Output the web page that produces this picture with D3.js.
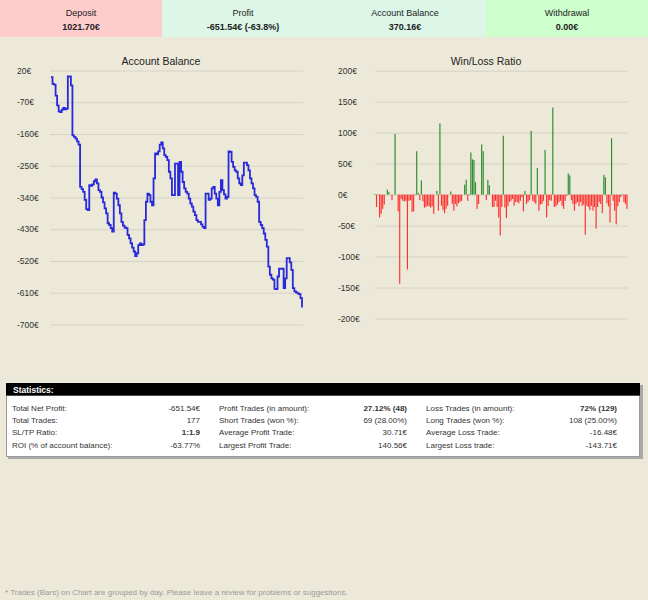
<!DOCTYPE html>
<html><head><meta charset="utf-8">
<script src="https://cdn.jsdelivr.net/npm/d3@7"></script>
<style>
body{margin:0;background:#ECE9D8;}
svg text{font-family:"Liberation Sans",Arial,sans-serif;}
</style>
</head><body>
<svg id="c" width="648" height="600"></svg>
<script>
// ---------- data ----------
const headerLabels = ["Deposit", "Profit", "Account Balance", "Withdrawal"];
const headerValues = ["1021.70€", "-651.54€ (-63.8%)", "370.16€", "0.00€"];
const headerColors = ["#FFCCCC", "#DCF6E8", "#DCF6E8", "#CCFFCC"];

const balanceTicks = [20, -70, -160, -250, -340, -430, -520, -610, -700];
const ratioTicks = [200, 150, 100, 50, 0, -50, -100, -150, -200];

// account balance (profit curve) per trade
const balance = [
  1, -18, -20, -51, -79, -96, -98, -91, -86, -90, -88, 3, 3, -22, -164, -168, -173, -181, -190,
  -310, -316, -324, -347, -373, -376, -305, -307, -303, -294, -289, -300, -319, -324, -340, -354,
  -371, -385, -413, -418, -427, -437, -326, -329, -343, -362, -385, -409, -420, -425, -427, -446,
  -456, -470, -482, -493, -506, -498, -475, -470, -475, -473, -404, -352, -329, -333, -352, -362,
  -286, -215, -218, -209, -190, -184, -201, -220, -225, -234, -267, -286, -333, -333, -244, -244,
  -333, -239, -267, -296, -314, -324, -329, -343, -357, -366, -380, -390, -404, -409, -409, -416,
  -423, -427, -329, -329, -347, -343, -314, -310, -329, -343, -362, -324, -291, -319, -331, -343,
  -338, -209, -211, -239, -253, -263, -267, -286, -300, -305, -277, -241, -241, -248, -263, -286,
  -300, -314, -333, -338, -352, -409, -418, -427, -442, -460, -479, -536, -559, -569, -573, -599,
  -600, -564, -542, -542, -542, -597, -569, -512, -512, -524, -545, -597, -606, -609, -612, -614,
  -625, -651.54
];

// daily win / loss (bars)
const dailyResult = [
  1, -20, 1, -37, -31, -23, -16, 0, 8, 4, 0, -9, 0, 98, 0, -27, -144, -7, -10, -11, -10, -121,
  -10, -9, -28, -27, 1, 70, 3, -9, 23, -11, -21, -20, -18, -19, -21, -19, -31, 0, 6, -26, 115,
  -18, -25, -30, -23, -18, 0, 5, -15, -26, -15, -19, -14, -12, -10, 0, 16, 24, -10, 1, 68, 57,
  56, 20, -23, -15, 0, 81, 70, 0, -9, 24, 15, 0, -20, -20,
  -10, -20, -37, -66, -20, 95, -21, -38, -19, -12, -10, -7, -18, -12, -12, -14, -10, -4, -27, 6,
  -15, -12, -9, 103, -10, -12, -15, 43, -26, -16, -15, -10, 72, -37, -18, -9, -10, 140.56, -20,
  -19, -16, -12, -10, -18, -23, -10, -2, 34, 31, -9, -15, -26, -15, -12, -19, -12, -18, -16, -65,
  -18, -20, -25, -18, -26, -20, -55, -20, -12, -15, -30, 32, 28, -14, -19, -45, 91, -10, -26, -48,
  -19, -12, -4, 1, -12, -15, -23
];

const statLabels1 = ["Total Net Profit:", "Total Trades:", "SL/TP Ratio:", "ROI (% of account balance):"];
const statValues1 = ["-651.54€", "177", "1:1.9", "-63.77%"];
const statLabels2 = ["Profit Trades (in amount):", "Short Trades (won %):", "Average Profit Trade:", "Largest Profit Trade:"];
const statValues2 = ["27.12% (48)", "69 (28.00%)", "30.71€", "140.56€"];
const statLabels3 = ["Loss Trades (in amount):", "Long Trades (won %):", "Average Loss Trade:", "Largest Loss trade:"];
const statValues3 = ["72% (129)", "108 (25.00%)", "-16.48€", "-143.71€"];
const boldValues = ["1:1.9", "27.12% (48)", "72% (129)"];

const footerText = "* Trades (Bars) on Chart are grouped by day. Please leave a review for problems or suggestions.";

// ---------- drawing ----------
const svg = d3.select("#c");
svg.append("rect").attr("width", 648).attr("height", 600).attr("fill", "#ECE9D8");

// header cells
const cellX = d3.scaleBand().domain(d3.range(headerLabels.length)).range([0, 648]);
const head = svg.append("g");
headerLabels.forEach((lab, i) => {
  head.append("rect").attr("x", cellX(i)).attr("y", 0).attr("width", cellX.bandwidth()).attr("height", 37)
    .attr("fill", headerColors[i]);
  head.append("text").attr("x", cellX(i) + cellX.bandwidth() / 2).attr("y", 16)
    .attr("text-anchor", "middle").attr("font-size", 9).attr("fill", "#222").text(lab);
  head.append("text").attr("x", cellX(i) + cellX.bandwidth() / 2).attr("y", 30)
    .attr("text-anchor", "middle").attr("font-size", 9).attr("font-weight", "bold").attr("fill", "#222").text(headerValues[i]);
});

function styleAxis(g, labelX) {
  g.select(".domain").remove();
  g.selectAll(".tick line").attr("stroke", "#D6D2C6").attr("stroke-width", 1);
  g.selectAll(".tick text").attr("text-anchor", "start").attr("x", labelX)
    .attr("font-size", 8.5).attr("fill", "#333").attr("font-family", "Liberation Sans, Arial, sans-serif");
}

// ---- Account Balance ----
const xL = d3.scaleLinear().domain([0, balance.length - 1]).range([51, 302]);
const yL = d3.scaleLinear().domain([-700, 20]).range([324.5, 70.5]);
const gL = svg.append("g");
gL.append("text").attr("x", 161).attr("y", 65).attr("text-anchor", "middle")
  .attr("font-size", 10.5).attr("fill", "#222").text("Account Balance");
const axL = gL.append("g").attr("transform", "translate(50,0)")
  .call(d3.axisLeft(yL).tickValues(balanceTicks).tickSize(-253).tickPadding(0).tickFormat(d => d + "€"));
styleAxis(axL, -33);
gL.append("path").datum(balance)
  .attr("fill", "none").attr("stroke", "#2828DC").attr("stroke-width", 1.8)
  .attr("d", d3.line().x((d, i) => xL(i)).y(d => yL(d)).curve(d3.curveStepAfter));

// ---- Win/Loss Ratio ----
const xR = d3.scaleBand().domain(d3.range(dailyResult.length)).range([374, 628]).padding(0.25);
const yR = d3.scaleLinear().domain([-200, 200]).range([318.5, 70.7]);
const gR = svg.append("g");
gR.append("text").attr("x", 486).attr("y", 65).attr("text-anchor", "middle")
  .attr("font-size", 10.5).attr("fill", "#222").text("Win/Loss Ratio");
const axR = gR.append("g").attr("transform", "translate(375,0)")
  .call(d3.axisLeft(yR).tickValues(ratioTicks).tickSize(-253).tickPadding(0).tickFormat(d => d + "€"));
styleAxis(axR, -37);
gR.selectAll("rect.bar").data(dailyResult).join("rect").attr("class", "bar")
  .attr("x", (d, i) => xR(i))
  .attr("width", xR.bandwidth())
  .attr("y", d => d >= 0 ? yR(d) : yR(0))
  .attr("height", d => Math.abs(yR(d) - yR(0)))
  .attr("fill", d => d >= 0 ? "#2E8B2E" : "#FF3030");

// ---- Statistics ----
const st = svg.append("g");
st.append("rect").attr("x", 8).attr("y", 385).attr("width", 635).attr("height", 74).attr("fill", "#A8A8A8");
st.append("rect").attr("x", 6.5).attr("y", 395.5).attr("width", 633).attr("height", 61)
  .attr("fill", "#FFFFFF").attr("stroke", "#9A9A9A");
st.append("rect").attr("x", 6).attr("y", 383).attr("width", 634).attr("height", 12.5).attr("fill", "#000");
st.append("text").attr("x", 13).attr("y", 392.5).attr("font-size", 8.5).attr("font-weight", "bold")
  .attr("fill", "#fff").text("Statistics:");
const rowY = d3.scaleLinear().domain([0, 3]).range([410.5, 447.5]);
const cols = [
  [statLabels1, statValues1, 12, 200],
  [statLabels2, statValues2, 219, 407],
  [statLabels3, statValues3, 426, 617]
];
cols.forEach(([labs, vals, lx, vx]) => {
  labs.forEach((l, i) => {
    st.append("text").attr("x", lx).attr("y", rowY(i)).attr("font-size", 8).attr("fill", "#333").text(l);
    st.append("text").attr("x", vx).attr("y", rowY(i)).attr("font-size", 8).attr("text-anchor", "end")
      .attr("font-weight", boldValues.includes(vals[i]) ? "bold" : "normal").attr("fill", "#333").text(vals[i]);
  });
});

// footer
svg.append("text").attr("x", 5).attr("y", 594.5).attr("font-size", 8).attr("fill", "#9A9A9A").text(footerText);
</script>
</body></html>
